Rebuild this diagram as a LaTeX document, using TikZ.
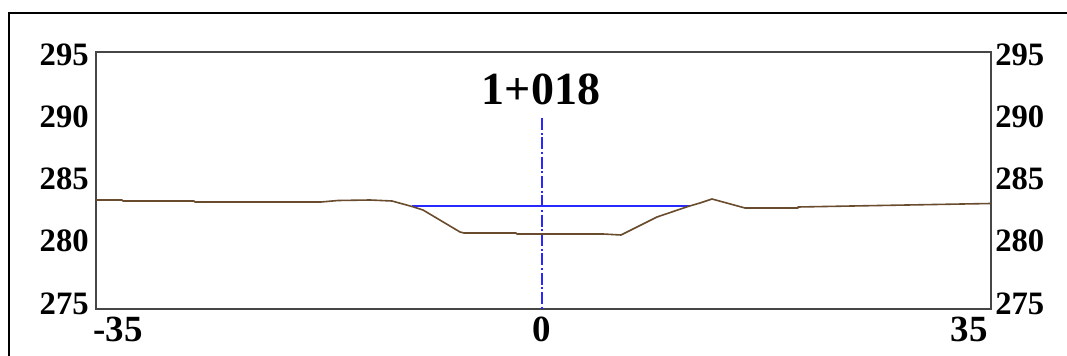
\documentclass[tikz,border=0pt]{standalone}
\usepackage{fontspec}
\setmainfont{Liberation Serif}
\begin{document}
\begin{tikzpicture}[x=0.75pt,y=-0.75pt,
  ylab/.style={font=\fontsize{24.5}{26}\selectfont\bfseries, inner sep=0pt},
  xlab/.style={font=\fontsize{27.7}{30}\selectfont\bfseries, inner sep=0pt, anchor=base},
  ttl/.style={font=\fontsize{34.5}{38}\selectfont\bfseries, inner sep=0pt, anchor=base},
  ground/.style={draw={rgb,255:red,105;green,75;blue,45}, line width=1.2pt, line join=round},
  water/.style={draw={rgb,255:red,40;green,40;blue,255}, line width=1.3pt},
  axisline/.style={draw={rgb,255:red,40;green,40;blue,255}, line width=1pt, dash pattern=on 9pt off 2pt on 1.5pt off 2pt},
  plotframe/.style={draw={rgb,255:red,70;green,70;blue,70}, line width=1.2pt},
  outerframe/.style={draw=black, line width=1.6pt}]
\useasboundingbox (0,0) rectangle (1067,356);
% outer frame
\draw[outerframe] (9,360) -- (9,13) -- (1070,13);
% plot frame
\coordinate (TL) at (96,52);
\coordinate (BR) at (991,309);
\draw[plotframe] (TL) rectangle (BR);
% left labels
\node[ylab, anchor=east] (l295) at (89,55) {295};
\node[ylab, anchor=east] (l290) at (89,117) {290};
\node[ylab, anchor=east] (l285) at (89,179) {285};
\node[ylab, anchor=east] (l280) at (89,241) {280};
\node[ylab, anchor=east] (l275) at (89,303.5) {275};
% right labels
\node[ylab, anchor=west] (r295) at (995,55) {295};
\node[ylab, anchor=west] (r290) at (995,117) {290};
\node[ylab, anchor=west] (r285) at (995,179) {285};
\node[ylab, anchor=west] (r280) at (995,241) {280};
\node[ylab, anchor=west] (r275) at (995,303.5) {275};
% bottom labels
\node[xlab, anchor=base west] (bm35) at (93,341) {-35};
\node[xlab] (b0) at (542,341) {0};
\node[xlab, anchor=base east] (b35) at (988,341) {35};
% title
\node[ttl] (title) at (541,105) {1+018};
% centre line
\coordinate (ctop) at (542,118);
\coordinate (cbot) at (542,309);
\draw[axisline] (ctop) -- (cbot);
% water surface
\coordinate (wl) at (412,206);
\coordinate (wr) at (690,206);
\draw[water] (wl) -- (wr);
% ground profile
\draw[ground] (96,200) -- (122,200) -- (123,201) -- (194,201) -- (195,202) -- (321,202)
  -- (338,200.5) -- (370,200) -- (392,201) -- (412,206.5) -- (423,210)
  -- (460,232) -- (464,233) -- (516,233) -- (517,234) -- (603,234) -- (621,235)
  -- (657,217) -- (688,206.5) -- (700,203) -- (712,199) -- (745,208) -- (798,208)
  -- (798,207) -- (852,206) -- (907,205) -- (962,204) -- (991,203.5);
\end{tikzpicture}
\end{document}
